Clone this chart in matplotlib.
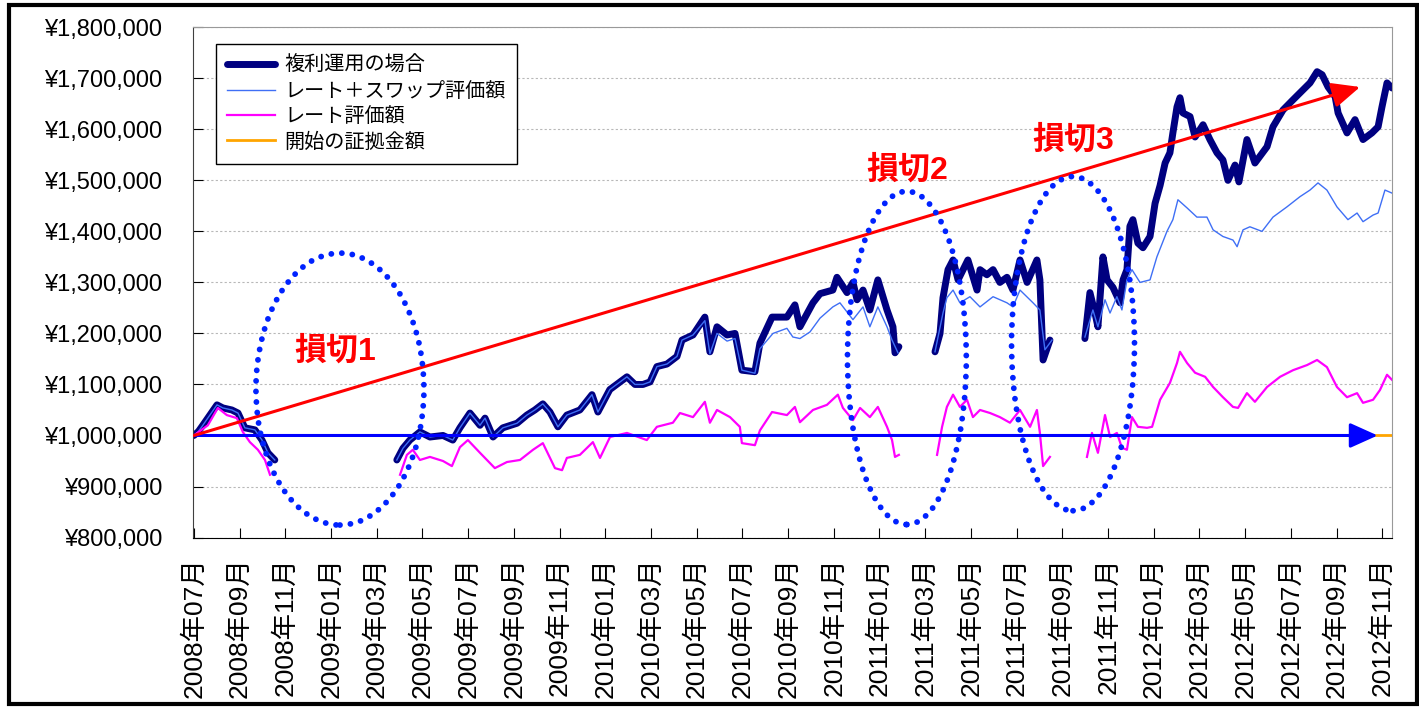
import numpy as np
import matplotlib.pyplot as plt
from matplotlib.patches import Ellipse, FancyArrowPatch, Rectangle

plt.rcParams['font.family'] = ['Liberation Sans', 'Noto Sans CJK JP', 'DejaVu Sans']

nan = np.nan

# x = months since 2008年07月, values in thousand yen, nan = no position (stop-loss gaps)
fukuri_x = [0, 0.2, 0.39, 0.70, 1.01, 1.27, 1.66, 1.93, 2.23, 2.67, 2.98, 3.24, 3.54, nan,
            8.88, 9.15, 9.45, 9.89, 10.33, 10.90, 11.33, 11.64, 12.08, 12.52, 12.74, 13.09, 13.52, 14.14, 14.57,
            14.92, 15.27, 15.58, 15.93, 16.32, 16.89, 17.42, 17.68, 18.20, 18.95, 19.30, 19.65, 19.96, 20.26,
            20.70, 21.14, 21.36, 21.84, 22.36, 22.58, 22.89, 23.33, 23.68, 23.98, 24.55, 24.77, 25.30, 25.95,
            26.30, 26.52, 27.09, 27.40, 27.96, 28.14, 28.58, 28.84, 29.02, 29.28, 29.58, 29.93, 30.33, 30.59,
            30.68, 30.85, nan,
            32.43, 32.65, 32.78, 33.00, 33.22, 33.44, 33.87, 34.27, 34.40, 34.70, 34.97, 35.27, 35.58, 35.84,
            36.15, 36.46, 36.89, 37.02, 37.16, 37.46, nan,
            38.99, 39.21, 39.43, 39.56, 39.78, 39.96, 40.22, 40.53, 40.66, 40.83, 40.96, 41.09, 41.31, 41.53,
            41.84, 42.06, 42.28, 42.50, 42.71, 42.84, 43.02, 43.15, 43.28, 43.59, 43.81, 44.16, 44.46, 44.77,
            45.03, 45.25, 45.56, 45.73, 46.08, 46.43, 46.96, 47.22, 47.66, 48.10, 48.53, 48.84, 49.15, 49.37,
            49.63, 49.94, 50.07, 50.46, 50.81, 51.16, 51.55, 51.82, 51.99, 52.21, 52.43]
fukuri_y = [1000, 1008, 1020, 1040, 1060, 1054, 1050, 1044, 1015, 1011, 991, 966, 952, nan,
            952, 975, 991, 1007, 997, 1000, 991, 1015, 1044, 1020, 1034, 997, 1015, 1024, 1040,
            1050, 1062, 1046, 1017, 1040, 1050, 1080, 1046, 1090, 1115, 1100, 1100, 1105, 1135,
            1140, 1155, 1187, 1197, 1232, 1164, 1213, 1197, 1200, 1128, 1125, 1181, 1232, 1232,
            1256, 1213, 1260, 1278, 1285, 1310, 1280, 1300, 1266, 1285, 1246, 1305, 1246, 1213,
            1162, 1174, nan,
            1164, 1200, 1270, 1325, 1344, 1305, 1344, 1285, 1325, 1315, 1325, 1300, 1310, 1285,
            1344, 1300, 1344, 1305, 1148, 1187, nan,
            1190, 1280, 1240, 1213, 1350, 1305, 1290, 1260, 1305, 1325, 1410, 1423, 1377, 1368,
            1390, 1455, 1490, 1534, 1554, 1593, 1644, 1662, 1632, 1625, 1585, 1609, 1580, 1554,
            1540, 1500, 1530, 1497, 1580, 1534, 1566, 1605, 1638, 1658, 1677, 1691, 1713, 1707,
            1683, 1664, 1632, 1593, 1619, 1580, 1593, 1605, 1644, 1691, 1681]

swap_x = [0, 0.2, 0.39, 0.70, 1.01, 1.27, 1.66, 1.93, 2.23, 2.67, 2.98, 3.24, 3.54, nan,
          8.88, 9.15, 9.45, 9.89, 10.33, 10.90, 11.33, 11.64, 12.08, 12.52, 12.74, 13.09, 13.52, 14.14, 14.57,
          14.92, 15.27, 15.58, 15.93, 16.32, 16.89, 17.42, 17.68, 18.20, 18.95, 19.30, 19.65, 19.96, 20.26,
          20.70, 21.14, 21.36, 21.84, 22.36, 22.58, 22.89, 23.33, 23.68, 23.98, 24.55, 24.77, 25.34, 25.95,
          26.21, 26.52, 26.96, 27.40, 27.96, 28.27, 28.84, 29.28, 29.58, 29.93, 30.33, 30.55, 30.81, nan,
          32.43, 32.78, 32.95, 33.22, 33.52, 33.96, 34.40, 34.97, 35.58, 35.84, 36.15, 36.72, 37.02, 37.24,
          37.55, nan,
          38.99, 39.34, 39.56, 39.87, 40.09, 40.39, 40.61, 40.83, 41.05, 41.40, 41.84, 42.14, 42.58, 42.84,
          43.06, 43.46, 43.89, 44.33, 44.60, 45.03, 45.47, 45.65, 45.91, 46.21, 46.74, 47.22, 47.83, 48.40,
          48.84, 49.19, 49.58, 50.02, 50.50, 50.90, 51.16, 51.60, 51.82, 52.12, 52.43]
swap_y = [1000, 1008, 1020, 1040, 1060, 1054, 1050, 1044, 1015, 1011, 991, 966, 952, nan,
          952, 975, 991, 1007, 997, 1000, 991, 1015, 1044, 1020, 1034, 997, 1015, 1024, 1040,
          1050, 1062, 1046, 1017, 1040, 1050, 1080, 1046, 1090, 1115, 1100, 1100, 1105, 1135,
          1140, 1155, 1187, 1197, 1225, 1160, 1200, 1185, 1190, 1128, 1122, 1170, 1200, 1210,
          1193, 1190, 1203, 1230, 1252, 1260, 1227, 1252, 1213, 1252, 1213, 1187, 1162, nan,
          1164, 1240, 1270, 1285, 1260, 1272, 1252, 1272, 1260, 1252, 1285, 1260, 1246, 1168,
          1187, nan,
          1193, 1246, 1213, 1266, 1240, 1272, 1246, 1305, 1325, 1300, 1305, 1350, 1400, 1423,
          1462, 1446, 1428, 1428, 1403, 1390, 1383, 1370, 1403, 1409, 1400, 1428, 1448, 1468,
          1481, 1495, 1481, 1448, 1423, 1436, 1419, 1432, 1436, 1481, 1475]

rate_x = [0, 0.61, 1.05, 1.44, 1.88, 2.14, 2.45, 2.80, 3.11, 3.33, nan,
          9.02, 9.32, 9.58, 9.89, 10.33, 10.90, 11.29, 11.64, 11.99, 12.52, 13.17, 13.70, 14.27, 14.84,
          15.27, 15.80, 16.11, 16.32, 16.89, 17.46, 17.77, 18.21, 18.95, 19.82, 20.26, 20.96, 21.27, 21.84,
          22.36, 22.58, 22.89, 23.46, 23.89, 23.98, 24.55, 24.77, 25.30, 25.95, 26.30, 26.52, 27.09, 27.70,
          28.18, 28.40, 28.84, 29.15, 29.58, 29.93, 30.33, 30.55, 30.68, 30.85, nan,
          32.52, 32.74, 32.95, 33.22, 33.52, 33.83, 34.09, 34.40, 34.84, 35.27, 35.71, 36.15, 36.59, 36.89,
          37.02, 37.16, 37.46, nan,
          39.08, 39.30, 39.56, 39.87, 40.09, 40.39, 40.61, 40.83, 41.05, 41.31, 41.71, 41.93, 42.28, 42.71,
          43.02, 43.15, 43.46, 43.81, 44.25, 44.60, 45.03, 45.47, 45.69, 46.08, 46.43, 46.96, 47.53, 48.10,
          48.71, 49.15, 49.58, 50.02, 50.46, 50.90, 51.16, 51.60, 51.90, 52.21, 52.43]
rate_y = [1000, 1020, 1054, 1040, 1034, 1007, 987, 972, 952, 923, nan,
          923, 962, 972, 952, 958, 950, 940, 977, 991, 966, 936, 948, 952, 972,
          985, 936, 932, 956, 962, 987, 956, 997, 1005, 991, 1017, 1025, 1044, 1036,
          1066, 1025, 1050, 1036, 1017, 985, 981, 1010, 1046, 1040, 1056, 1026, 1050, 1060,
          1080, 1054, 1030, 1054, 1036, 1056, 1017, 991, 958, 962, nan,
          962, 1017, 1056, 1080, 1056, 1070, 1036, 1050, 1044, 1036, 1025, 1050, 1017, 1050,
          1005, 940, 958, nan,
          958, 1005, 966, 1040, 997, 1005, 976, 972, 1036, 1017, 1015, 1017, 1070, 1103,
          1142, 1164, 1142, 1123, 1115, 1095, 1075, 1056, 1054, 1083, 1066, 1095, 1115, 1128,
          1138, 1148, 1134, 1095, 1075, 1083, 1064, 1070, 1089, 1119, 1109]

start_x = [0, 52.43]
start_y = [1000, 1000]

month_ticks = list(range(0, 53, 2))
month_labels = ['2008年07月', '2008年09月', '2008年11月', '2009年01月', '2009年03月', '2009年05月',
                '2009年07月', '2009年09月', '2009年11月', '2010年01月', '2010年03月', '2010年05月',
                '2010年07月', '2010年09月', '2010年11月', '2011年01月', '2011年03月', '2011年05月',
                '2011年07月', '2011年09月', '2011年11月', '2012年01月', '2012年03月', '2012年05月',
                '2012年07月', '2012年09月', '2012年11月']
yen_ticks = list(range(800000, 1800001, 100000))

# stop-loss marks: label, ellipse centre (month, yen), width (months), height (yen), label pos (month, yen)
cuts = [('損切1', 6.39, 1091000, 7.35, 533000, 6.2, 1164000),
        ('損切2', 31.2, 1152000, 5.2, 653000, 31.2, 1520000),
        ('損切3', 38.47, 1180000, 5.38, 655000, 38.47, 1579000)]

fig = plt.figure(figsize=(14.19, 7.07), dpi=100)
ax = fig.add_axes([0.136, 0.2397, 0.845, 0.7217])

k = 1000
ax.plot(fukuri_x, np.array(fukuri_y) * k, color='#000080', lw=5,
        solid_joinstyle='round', solid_capstyle='round', label='複利運用の場合')
ax.plot(swap_x, np.array(swap_y) * k, color='#3f6ff5', lw=1.0, label='レート＋スワップ評価額')
ax.plot(rate_x, np.array(rate_y) * k, color='#ff00ff', lw=1.6, label='レート評価額')
ax.plot(start_x, np.array(start_y) * k, color='#ffa500', lw=2, label='開始の証拠金額')

# arrows
ax.add_patch(FancyArrowPatch((0, 1000000), (51.8, 1000000),
                             arrowstyle='-|>,head_length=1.0,head_width=0.45', mutation_scale=17,
                             color='#0000ff', lw=2.2, shrinkA=0, shrinkB=0, zorder=5))
ax.add_patch(FancyArrowPatch((0, 1000000), (51.03, 1683000),
                             arrowstyle='-|>,head_length=1.0,head_width=0.45', mutation_scale=17,
                             color='#ff0000', lw=2.2, shrinkA=0, shrinkB=0, zorder=5))

for name, cx, cy, w, h, tx, ty in cuts:
    ax.add_patch(Ellipse((cx, cy), w, h, fill=False, ec='#0022ff', lw=4.2,
                         ls=(0, (0.01, 1.8)), capstyle='round', zorder=6))
    ax.text(tx, ty, name, color='#ff0000', fontsize=23, fontweight='bold',
            ha='center', va='center', zorder=7)

ax.set_xlim(-0.04, 52.43)
ax.set_ylim(800000, 1800000)
ax.set_yticks(yen_ticks)
ax.set_yticklabels([f'¥{v:,}' for v in yen_ticks])
ax.set_xticks(month_ticks)
ax.set_xticklabels(month_labels, rotation=90)
ax.tick_params(axis='y', direction='in', length=7, pad=22, labelsize=17)
ax.tick_params(axis='x', direction='in', length=7, pad=14, labelsize=19)

ax.yaxis.grid(True, color='#b8b8b8', ls=(0, (2, 2)), lw=0.8)
ax.set_axisbelow(True)
ax.spines['left'].set_color('#404040')
ax.spines['bottom'].set_color('black')
ax.spines['top'].set_color('#999999')
ax.spines['right'].set_color('#999999')

leg = ax.legend(loc='upper left', bbox_to_anchor=(0.019, 0.967), borderaxespad=0,
                fancybox=False, edgecolor='black', framealpha=1, handlelength=2.4,
                labelspacing=0.22, borderpad=0.55, handletextpad=0.45,
                prop={'family': 'Noto Sans CJK JP', 'size': 14.5})
leg.get_frame().set_linewidth(1.0)

# outer frame
fig.add_artist(Rectangle((0.0063, 0.004), 0.992, 0.989, transform=fig.transFigure,
                         fill=False, lw=3, ec='black'))

fig.savefig('out.png', dpi=100)
